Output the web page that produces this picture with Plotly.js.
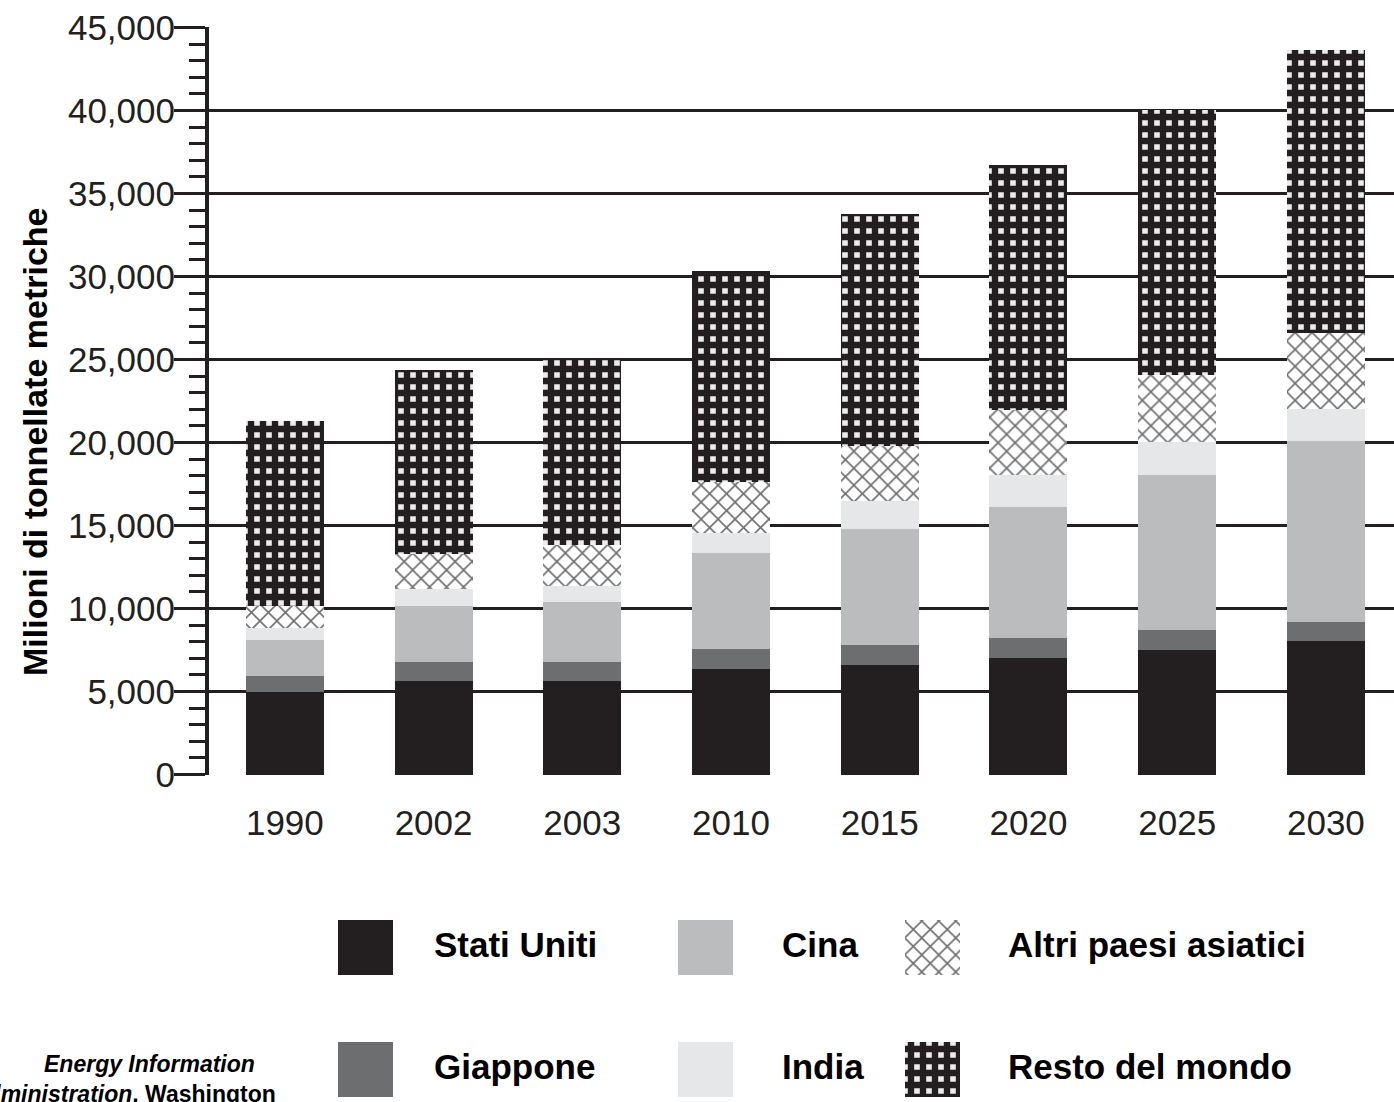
<!DOCTYPE html>
<html>
<head>
<meta charset="utf-8">
<script src="https://cdn.plot.ly/plotly-3.0.1.min.js"></script>
<style>
  html, body { margin: 0; padding: 0; background: #ffffff; }
  #chart { width: 1394px; height: 1102px; }
</style>
</head>
<body>
<div id="chart"></div>
<script>
// ---- data (millions of metric tons) ----
const years = ['1990', '2002', '2003', '2010', '2015', '2020', '2025', '2030'];
const statiUniti = [4960, 5610, 5610, 6380, 6620, 7050, 7530, 8070];
const giappone   = [960, 1200, 1200, 1210, 1210, 1200, 1200, 1150];
const cina       = [2170, 3370, 3610, 5750, 6940, 7890, 9310, 10870];
const india      = [740, 1000, 960, 1190, 1680, 1900, 1970, 1900];
const altriAsia  = [1310, 2100, 2440, 3120, 3340, 3900, 4040, 4610];
const restoMondo = [11140, 11060, 11240, 12670, 13950, 14790, 16000, 17070];
const seriesNames = ['Stati Uniti', 'Giappone', 'Cina', 'India', 'Altri paesi asiatici', 'Resto del mondo'];
const yTickVals = [0, 5000, 10000, 15000, 20000, 25000, 30000, 35000, 40000, 45000];
const yAxisTitle = 'Milioni di tonnellate metriche';
const sourceLine1 = 'Energy Information';
const sourceLine2 = '<i>Administration</i>, Washington';

const seriesValues = [statiUniti, giappone, cina, india, altriAsia, restoMondo];

// ---- styles ----
const INK = '#231f20';
const markers = [
  { color: INK, line: { width: 0 } },
  { color: '#6d6e70', line: { width: 0 } },
  { color: '#bbbcbe', line: { width: 0 } },
  { color: '#e6e7e8', line: { width: 0 } },
  { color: '#ffffff', line: { width: 0 },
    pattern: { shape: 'x', fgcolor: '#6f6f6f', bgcolor: '#ffffff', size: 12, solidity: 0.25, fillmode: 'replace' } },
  { color: INK, line: { width: 0 },
    pattern: { shape: '+', fgcolor: INK, bgcolor: '#ececec', size: 12, solidity: 0.78, fillmode: 'replace' } }
];

const sans = 'Liberation Sans, Arial, Helvetica, sans-serif';

// plot area geometry (px) used to place layout annotations in paper units
const L = 209, R = 1394, TOP = 27, H = 1102;
const px = v => (v - L) / (R - L);
const py = v => (H - v) / (H - TOP);

const traces = [];
seriesNames.forEach((name, i) => {
  traces.push({
    type: 'bar', name: name, x: years, y: seriesValues[i],
    marker: markers[i], xaxis: 'x', yaxis: 'y',
    showlegend: false, hoverinfo: 'x+y+name'
  });
});

// ---- custom legend (large swatches) on a pixel-unit helper subplot ----
const legendCol = [0, 0, 1, 1, 2, 2];
const legendRow = [0, 1, 0, 1, 0, 1];
const colSwatchX = [365, 705, 932];
const colLabelX = [432, 780, 1006];
const rowTop = [920, 1042];
const SW = 55;

const annotations = [];
seriesNames.forEach((name, i) => {
  const c = legendCol[i], r = legendRow[i];
  traces.push({
    type: 'bar', x: [colSwatchX[c]], y: [SW], base: [rowTop[r]], width: [SW],
    marker: markers[i], xaxis: 'x2', yaxis: 'y2',
    showlegend: false, hoverinfo: 'skip'
  });
  annotations.push({
    xref: 'paper', yref: 'paper', x: px(colLabelX[c]), y: py(rowTop[r] + SW / 2 - 3),
    text: name, showarrow: false, xanchor: 'left', yanchor: 'middle',
    font: { family: sans, size: 35, weight: 'bold', color: '#000000' }
  });
});

// y-axis title
annotations.push({
  xref: 'paper', yref: 'paper', x: px(35), y: py(442), text: yAxisTitle, textangle: -90,
  showarrow: false, xanchor: 'center', yanchor: 'middle',
  font: { family: sans, size: 34, weight: 'bold', color: '#000000' }
});
// source note (cropped at the page edge, as in the original)
annotations.push({
  xref: 'paper', yref: 'paper', x: px(42), y: py(1064), text: '<i>' + sourceLine1 + '</i>',
  showarrow: false, xanchor: 'left', yanchor: 'middle',
  font: { family: sans, size: 23, weight: 'bold', color: '#000000' }
});
annotations.push({
  xref: 'paper', yref: 'paper', x: px(278), y: py(1094), text: sourceLine2,
  showarrow: false, xanchor: 'right', yanchor: 'middle',
  font: { family: sans, size: 23, weight: 'bold', color: '#000000' }
});

const layout = {
  width: 1394, height: 1102,
  margin: { l: L, r: 0, t: TOP, b: 0, pad: 0 },
  paper_bgcolor: '#ffffff', plot_bgcolor: 'rgba(0,0,0,0)',
  barmode: 'stack', bargap: 0.475,
  showlegend: false,
  font: { family: sans, color: INK },
  xaxis: {
    type: 'category', domain: [0, 1], anchor: 'y', range: [-0.51, 7.458],
    showgrid: false, zeroline: false, showline: false,
    ticks: 'outside', ticklen: 17, tickcolor: 'rgba(0,0,0,0)',
    tickfont: { family: sans, size: 35, color: INK },
    fixedrange: true
  },
  yaxis: {
    domain: [py(775), 1], anchor: 'x', range: [-25, 45025],
    tickmode: 'array', tickvals: yTickVals, tickformat: ',',
    showgrid: true, gridcolor: INK, gridwidth: 3,
    zeroline: false,
    showline: true, linecolor: INK, linewidth: 4,
    ticks: 'outside', ticklen: 31, tickwidth: 3, tickcolor: INK,
    ticklabelstandoff: -8,
    minor: { dtick: 1000, ticks: 'outside', ticklen: 16, tickwidth: 3, tickcolor: INK, showgrid: false },
    tickfont: { family: sans, size: 35, color: INK },
    fixedrange: true
  },
  xaxis2: { domain: [0, 1], anchor: 'y2', range: [L, R], visible: false, fixedrange: true },
  yaxis2: { domain: [0, py(887)], anchor: 'x2', range: [H, 887], visible: false, fixedrange: true },
  annotations: annotations
};

Plotly.newPlot('chart', traces, layout, { displayModeBar: false, staticPlot: true });
</script>
</body>
</html>
